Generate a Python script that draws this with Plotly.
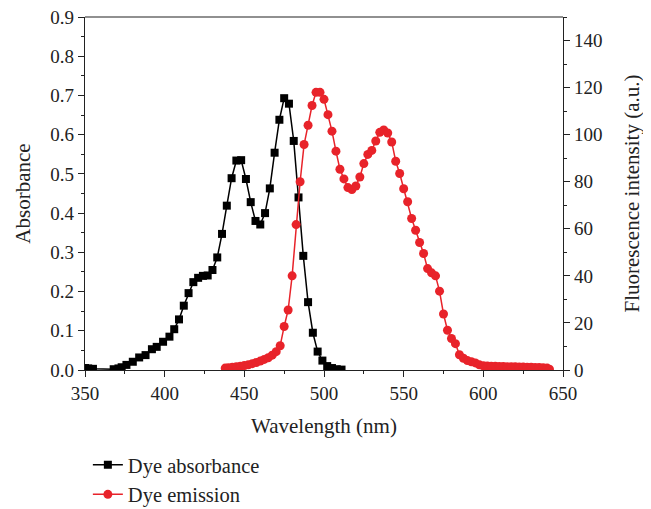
import plotly.graph_objects as go

abs_wl = [350, 352, 355, 368, 371, 373, 376, 380, 384, 388, 392, 395, 399, 403, 406, 409,
          412, 415, 418, 421, 424, 427, 430, 433, 436, 439, 442, 445, 448, 451, 454, 457,
          460, 463, 466, 469, 472, 475, 478, 481, 484, 487, 490, 493, 496, 499, 502, 505,
          508, 511]
abs_val = [0.005, 0.004, 0.003, 0.002, 0.004, 0.007, 0.013, 0.021, 0.032, 0.038, 0.053,
           0.059, 0.072, 0.085, 0.104, 0.129, 0.164, 0.196, 0.224, 0.235, 0.240, 0.241,
           0.255, 0.287, 0.347, 0.419, 0.489, 0.534, 0.535, 0.487, 0.428, 0.380, 0.371,
           0.400, 0.463, 0.554, 0.638, 0.693, 0.679, 0.584, 0.440, 0.291, 0.173, 0.095,
           0.047, 0.024, 0.010, 0.005, 0.002, 0.001]

em_wl = [438, 440, 442.5, 445, 447.5, 450, 452.5, 455, 457.5, 460, 462.5, 465, 467.5, 470,
         472.5, 475, 477.5, 480, 482.5, 485, 487.5, 490, 492.5, 495, 497.5, 500, 502.5,
         505, 507.5, 510, 512.5, 515, 517.5, 520, 522.5, 525, 527.5, 530, 532.5, 535,
         537.5, 540, 542.5, 545, 547.5, 550, 552.5, 555, 557.5, 560, 562.5, 565, 567.5,
         570, 572.5, 575, 577.5, 580, 582.5, 585, 587.5, 590, 592.5, 595, 597.5, 600,
         602.5, 605, 607.5, 610, 612.5, 615, 617.5, 620, 622.5, 625, 627.5, 630, 632.5,
         635, 637.5, 640, 641.5]
em_val = [0.8, 1.0, 1.2, 1.4, 1.6, 1.9, 2.2, 2.7, 3.2, 3.8, 4.5, 5.2, 6.3, 7.8, 10.3, 18.5,
          25.5, 40.0, 61.8, 80.0, 95.8, 104.0, 112.4, 118.0, 118.0, 115.0, 108.5, 101.5,
          93.0, 85.3, 81.2, 77.5, 76.7, 78.2, 82.0, 87.7, 91.6, 93.3, 97.3, 101.0, 102.0,
          100.7, 96.9, 88.7, 83.5, 77.0, 71.5, 64.4, 59.4, 54.2, 49.5, 43.1, 41.3, 40.0,
          33.5, 23.8, 16.9, 13.4, 11.2, 6.5, 5.0, 4.0, 3.5, 3.0, 2.2, 1.8, 1.7, 1.6, 1.6,
          1.5, 1.5, 1.4, 1.4, 1.4, 1.3, 1.3, 1.2, 1.2, 1.1, 1.1, 1.0, 0.8, 0.3]

FONT = "Liberation Serif"
RED = "#e8232a"
AX = "#222222"

fig = go.Figure()
fig.add_trace(go.Scatter(
    x=abs_wl, y=abs_val, name="Dye absorbance", mode="lines+markers",
    line=dict(color="black", width=1.5),
    marker=dict(symbol="square", size=8, color="black"),
    yaxis="y"))
fig.add_trace(go.Scatter(
    x=em_wl, y=em_val, name="Dye emission", mode="lines+markers",
    line=dict(color=RED, width=1.5),
    marker=dict(symbol="circle", size=9, color=RED),
    yaxis="y2"))

tickfont = dict(family=FONT, size=19, color="#222")
titlefont = dict(family=FONT, size=21, color="#222")
fig.update_layout(
    width=643, height=501,
    margin=dict(l=77, r=88, t=9, b=139, autoexpand=False),
    plot_bgcolor="white", paper_bgcolor="white",
    font=dict(family=FONT, size=19, color="#222"),
    showlegend=True,
    legend=dict(x=0.006, y=-0.212, xanchor="left", yanchor="top",
                font=dict(family=FONT, size=20.5, color="#222"),
                bgcolor="rgba(0,0,0,0)", tracegroupgap=0, itemwidth=30),
    xaxis=dict(range=[350, 650], tickvals=[350, 400, 450, 500, 550, 600, 650],
               ticks="outside", ticklen=6, tickwidth=1.2, tickcolor=AX,
               minor=dict(dtick=25, tick0=350, ticks="outside", ticklen=3, tickcolor=AX),
               showline=True, linecolor=AX, linewidth=1.2, mirror=False,
               showgrid=False, zeroline=False, tickfont=tickfont,
               ticklabeloverflow="allow",
               title=dict(text="Wavelength (nm)", font=titlefont, standoff=15)),
    yaxis=dict(range=[0, 0.9], dtick=0.1, tickformat=".1f",
               ticks="outside", ticklen=6, tickwidth=1.2, tickcolor=AX,
               minor=dict(dtick=0.05, ticks="outside", ticklen=3, tickcolor=AX),
               showline=True, linecolor=AX, linewidth=1.2,
               showgrid=False, zeroline=False, tickfont=tickfont,
               ticklabeloverflow="allow",
               title=dict(text="Absorbance", font=titlefont, standoff=13)),
    yaxis2=dict(range=[0, 150], tickvals=[0, 20, 40, 60, 80, 100, 120, 140],
                overlaying="y", side="right",
                ticks="outside", ticklen=6, tickwidth=1.2, tickcolor=AX,
                minor=dict(dtick=10, ticks="outside", ticklen=3, tickcolor=AX),
                showline=True, linecolor=AX, linewidth=1.2,
                showgrid=False, zeroline=False, tickfont=tickfont,
                ticklabeloverflow="allow",
                title=dict(text="Fluorescence intensity (a.u.)", font=titlefont, standoff=22)),
)
fig.add_shape(type="line", xref="paper", yref="paper", x0=0, x1=1, y0=1, y1=1,
              line=dict(color=AX, width=1.2))

fig.write_html("out.html")
